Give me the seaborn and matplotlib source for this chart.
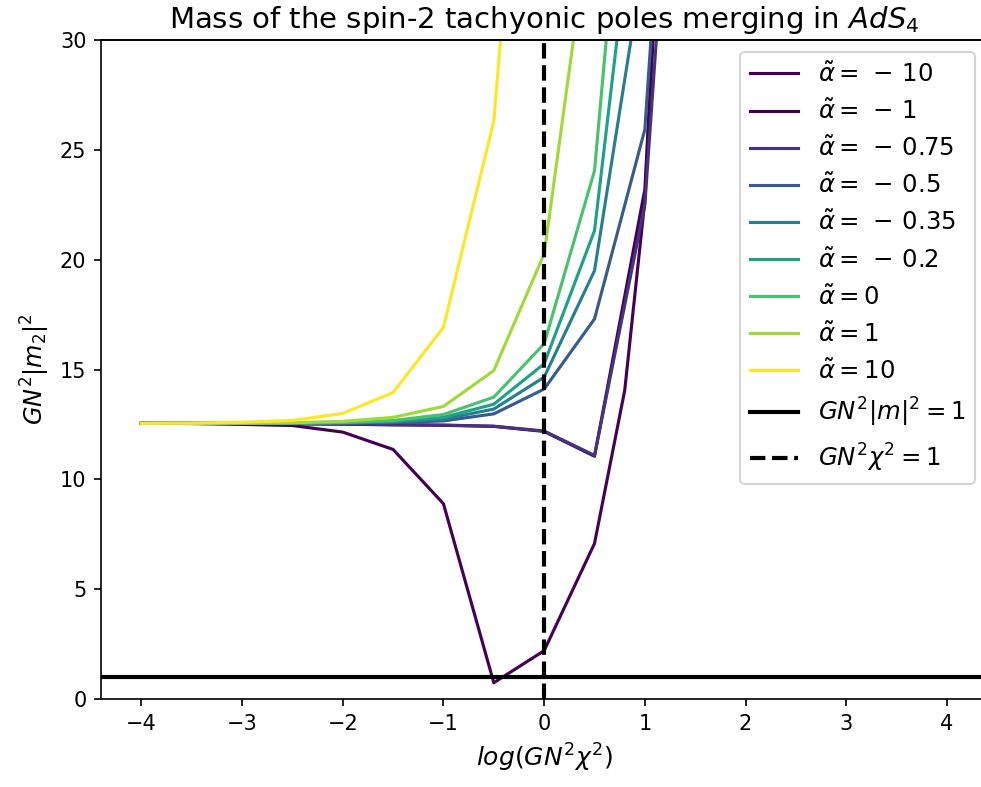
import numpy as np
import pandas as pd
import matplotlib
matplotlib.use("Agg")
import matplotlib.pyplot as plt
import seaborn as sns

plt.rcParams["axes.spines.top"] = True
plt.rcParams["axes.spines.right"] = True
plt.rcParams["axes.edgecolor"] = "black"

# ---- data ----
alpha_labels = [r"$\tilde{\alpha}=\,-\,10$", r"$\tilde{\alpha}=\,-\,1$", r"$\tilde{\alpha}=\,-\,0.75$",
                r"$\tilde{\alpha}=\,-\,0.5$", r"$\tilde{\alpha}=\,-\,0.35$", r"$\tilde{\alpha}=\,-\,0.2$",
                r"$\tilde{\alpha}=0$", r"$\tilde{\alpha}=1$", r"$\tilde{\alpha}=10$"]

x_m10 = [-4, -3.5, -3, -2.5, -2, -1.5, -1, -0.5, 0, 0.5, 0.8, 1.0, 1.25]
y_m10 = [12.55, 12.54, 12.5, 12.45, 12.15, 11.36, 8.89, 0.74, 2.2, 7.08, 14.05, 22.7, 45.5]

x_m1 = [-4, -3.5, -3, -2.5, -2, -1.5, -1, -0.5, 0, 0.5, 1.0, 1.25]
y_m1 = [12.55, 12.55, 12.54, 12.53, 12.51, 12.48, 12.46, 12.41, 12.18, 11.05, 23.2, 45.0]

x_m075 = [-4, -3.5, -3, -2.5, -2, -1.5, -1, -0.5, 0, 0.5, 1.0, 1.25]
y_m075 = [12.55, 12.55, 12.54, 12.53, 12.52, 12.49, 12.47, 12.42, 12.2, 11.09, 22.5, 39.0]

x_m05 = [-4, -3.5, -3, -2.5, -2, -1.5, -1, -0.5, 0, 0.5, 1.0, 1.25]
y_m05 = [12.55, 12.55, 12.55, 12.56, 12.56, 12.58, 12.66, 12.98, 14.11, 17.3, 25.93, 43.0]

x_m035 = [-4, -3.5, -3, -2.5, -2, -1.5, -1, -0.5, 0, 0.5, 1.0]
y_m035 = [12.55, 12.55, 12.55, 12.56, 12.57, 12.61, 12.74, 13.2, 14.65, 19.5, 34.0]

x_m02 = [-4, -3.5, -3, -2.5, -2, -1.5, -1, -0.5, 0, 0.5, 1.0]
y_m02 = [12.55, 12.55, 12.55, 12.56, 12.58, 12.64, 12.82, 13.42, 15.26, 21.32, 40.8]

x_0 = [-4, -3.5, -3, -2.5, -2, -1.5, -1, -0.5, 0, 0.5, 1.0]
y_0 = [12.55, 12.55, 12.55, 12.56, 12.59, 12.68, 12.95, 13.74, 16.17, 24.05, 49.6]

x_1 = [-4, -3.5, -3, -2.5, -2, -1.5, -1, -0.5, 0, 0.5]
y_1 = [12.55, 12.55, 12.56, 12.58, 12.64, 12.82, 13.32, 14.95, 20.26, 37.0]

x_10 = [-4, -3.5, -3, -2.5, -2, -1.5, -1, -0.5, 0]
y_10 = [12.55, 12.56, 12.6, 12.68, 13.0, 13.95, 16.92, 26.3, 54.0]

xs = [x_m10, x_m1, x_m075, x_m05, x_m035, x_m02, x_0, x_1, x_10]
ys = [y_m10, y_m1, y_m075, y_m05, y_m035, y_m02, y_0, y_1, y_10]

# ---- long table for seaborn ----
rows = []
for lab, xv, yv in zip(alpha_labels, xs, ys):
    for a, b in zip(xv, yv):
        rows.append((lab, a, b))
df = pd.DataFrame(rows, columns=["alpha", "x", "y"])

vir = plt.cm.viridis(np.linspace(0, 1, 8))
colors = [vir[0]] + list(vir)
palette = dict(zip(alpha_labels, colors))

W, H, DPI = 981, 787, 150
fig = plt.figure(figsize=(W / DPI, H / DPI), dpi=DPI)
ax = fig.add_axes([101 / W, 1 - 699 / H, (987.3 - 101) / W, (699 - 40) / H])

sns.lineplot(data=df, x="x", y="y", hue="alpha", hue_order=alpha_labels,
             palette=palette, estimator=None, sort=False, linewidth=1.5, ax=ax)

ax.axhline(1, color="black", linewidth=2, label=r"$GN^2|m|^2=1$")
ax.axvline(0, color="black", linewidth=2, linestyle="--", label=r"$GN^2\chi^2=1$")

ax.set_xlim(-4.4, 4.4)
ax.set_ylim(0, 30)
ax.set_xticks([-4, -3, -2, -1, 0, 1, 2, 3, 4])
ax.set_yticks([0, 5, 10, 15, 20, 25, 30])
ax.tick_params(labelsize=10)
ax.set_xlabel(r"$log(GN^2\chi^2)$", fontsize=12)
ax.set_ylabel(r"$GN^2|m_2|^2$", fontsize=11.5)
ax.set_title(r"Mass of the spin-2 tachyonic poles merging in $AdS_4$", fontsize=14)
for s in ["top", "right", "left", "bottom"]:
    ax.spines[s].set_visible(True)
    ax.spines[s].set_color("black")
    ax.spines[s].set_linewidth(0.8)
    ax.spines[s].set_zorder(5)

# frame top edge drawn explicitly as well
ax.plot([0, 1], [1, 1], transform=ax.transAxes, color="black", linewidth=0.9,
        clip_on=False, label="_nolegend_", zorder=6)

handles, labels = ax.get_legend_handles_labels()
ax.legend(handles, labels, loc="upper right", fontsize=11.7)

fig.savefig("out.png", dpi=DPI)
